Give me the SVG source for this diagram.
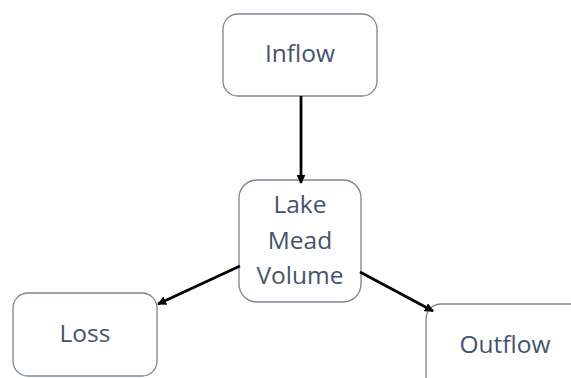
<svg xmlns="http://www.w3.org/2000/svg" width="571" height="378" viewBox="0 0 571 378">
<style>
.box{fill:#ffffff;stroke:#7a8594;stroke-width:1.3}
.lbl{font-family:"Open Sans","Noto Sans",sans-serif;font-size:24.5px;fill:#44546a;text-anchor:middle}
.con{stroke:#000;stroke-width:2.8;fill:none;marker-end:url(#ah)}
</style>
<defs>
<marker id="ah" viewBox="0 0 10 10" refX="9" refY="5" markerWidth="3.2" markerHeight="3.2" orient="auto" markerUnits="strokeWidth">
<path d="M0,0 L10,5 L0,10 z" fill="#000"/>
</marker>
</defs>
<rect width="571" height="378" fill="#fff"/>
<g id="inflow"><rect class="box" x="223" y="14" width="154" height="82" rx="15"/><text class="lbl" x="300" y="62">Inflow</text></g>
<g id="lake"><rect class="box" x="239" y="180" width="122" height="122" rx="18"/><text class="lbl" x="300" y="213">Lake</text><text class="lbl" x="300" y="249">Mead</text><text class="lbl" x="300" y="284">Volume</text></g>
<g id="loss"><rect class="box" x="13" y="293" width="144" height="83" rx="15"/><text class="lbl" x="85" y="342">Loss</text></g>
<g id="outflow"><rect class="box" x="426" y="304" width="170" height="100" rx="15"/><text class="lbl" x="505" y="353">Outflow</text></g>
<g id="connectors">
<line class="con" x1="301" y1="96" x2="301" y2="183"/>
<line class="con" x1="240" y1="266" x2="158" y2="304"/>
<line class="con" x1="360" y1="272" x2="433" y2="311"/>
</g>
</svg>
